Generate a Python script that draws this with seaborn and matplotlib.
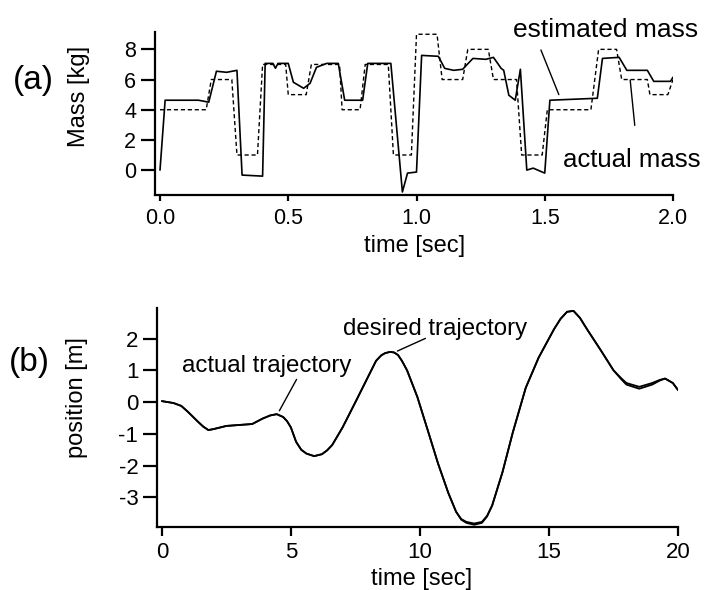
import numpy as np
import pandas as pd
import matplotlib
matplotlib.use("Agg")
import matplotlib.pyplot as plt
import seaborn as sns

# ---------------- data (a) ----------------
actual_t = [0.00, 0.18, 0.20, 0.28, 0.30, 0.38, 0.40, 0.49, 0.50, 0.57, 0.59, 0.70,
            0.71, 0.78, 0.80, 0.89, 0.91, 0.98, 1.00, 1.08, 1.10, 1.18, 1.20, 1.28,
            1.30, 1.39, 1.41, 1.49, 1.51, 1.68, 1.71, 1.78, 1.80, 1.90, 1.91, 1.98, 2.00]
actual_m = [4.0, 4.0, 6.0, 6.0, 1.0, 1.0, 7.0, 7.0, 5.0, 5.0, 7.0, 7.0,
            4.0, 4.0, 7.0, 7.0, 1.0, 1.0, 9.0, 9.0, 6.0, 6.0, 8.0, 8.0,
            6.0, 6.0, 1.0, 1.0, 4.0, 4.0, 8.0, 8.0, 6.0, 6.0, 5.0, 5.0, 6.0]

est_t = [0.00, 0.02, 0.15, 0.19, 0.22, 0.26, 0.30, 0.32, 0.40, 0.41, 0.44, 0.45, 0.46,
         0.50, 0.52, 0.56, 0.585, 0.61, 0.65, 0.695, 0.72, 0.79, 0.81, 0.90, 0.945,
         0.965, 1.00, 1.02, 1.085, 1.11, 1.145, 1.18, 1.22, 1.27, 1.30, 1.33, 1.34,
         1.36, 1.385, 1.405, 1.43, 1.455, 1.50, 1.52, 1.705, 1.725, 1.79, 1.82, 1.90,
         1.925, 1.99, 2.00]
est_m = [0.0, 4.63, 4.63, 4.5, 6.55, 6.48, 6.61, -0.33, -0.4, 7.07, 7.07, 6.75, 7.07,
         7.07, 5.82, 5.42, 5.75, 6.81, 7.07, 7.07, 4.63, 4.63, 7.07, 7.07, -1.45,
         -0.2, -0.13, 7.6, 7.54, 6.74, 6.61, 6.68, 7.4, 7.34, 7.47, 6.74, 6.61,
         4.96, 4.63, 6.68, 0.0, 0.13, -0.2, 4.63, 4.76, 7.4, 7.47, 6.61, 6.61,
         5.88, 5.88, 6.15]

# ---------------- data (b) ----------------
traj_t = [0.0, 0.45, 0.75, 1.0, 1.2, 1.4, 1.6, 1.8, 2.0, 2.5, 3.0, 3.5, 3.9, 4.2,
          4.45, 4.7, 4.85, 5.0, 5.2, 5.4, 5.6, 5.9, 6.2, 6.4, 6.6, 7.0, 7.5, 7.9,
          8.3, 8.5, 8.65, 8.85, 9.0, 9.15, 9.3, 9.5, 9.9, 10.3, 10.7, 11.1, 11.4,
          11.6, 11.8, 12.1, 12.4, 12.6, 12.8, 13.2, 13.6, 14.1, 14.6, 15.2, 15.45,
          15.7, 15.95, 16.2, 16.5, 17.0, 17.5, 17.8, 18.0, 18.5, 19.0, 19.3, 19.5,
          19.8, 20.0]
actual_pos = [0.03, -0.03, -0.12, -0.3, -0.46, -0.62, -0.77, -0.88, -0.85, -0.75,
              -0.72, -0.69, -0.52, -0.42, -0.38, -0.47, -0.6, -0.8, -1.25, -1.5,
              -1.62, -1.7, -1.64, -1.52, -1.35, -0.8, 0.0, 0.65, 1.3, 1.47, 1.54,
              1.58, 1.56, 1.48, 1.3, 1.0, 0.16, -0.88, -1.93, -2.86, -3.45, -3.68,
              -3.77, -3.82, -3.77, -3.58, -3.25, -2.2, -0.95, 0.45, 1.4, 2.3, 2.62,
              2.84, 2.87, 2.65, 2.26, 1.64, 1.0, 0.75, 0.6, 0.48, 0.6, 0.7, 0.74,
              0.6, 0.38]
desired_pos = [0.03, -0.03, -0.12, -0.3, -0.46, -0.62, -0.77, -0.88, -0.85, -0.75,
               -0.72, -0.69, -0.52, -0.42, -0.38, -0.47, -0.6, -0.8, -1.25, -1.5,
               -1.62, -1.7, -1.64, -1.52, -1.35, -0.8, 0.0, 0.65, 1.3, 1.47, 1.54,
               1.58, 1.56, 1.48, 1.3, 1.0, 0.16, -0.88, -1.93, -2.86, -3.45, -3.7,
               -3.8, -3.86, -3.8, -3.6, -3.25, -2.2, -0.95, 0.45, 1.4, 2.3, 2.62,
               2.84, 2.87, 2.65, 2.26, 1.64, 1.0, 0.72, 0.55, 0.42, 0.55, 0.68, 0.74,
               0.6, 0.38]

xticks_a = [0.0, 0.5, 1.0, 1.5, 2.0]
xticklabels_a = ["0.0", "0.5", "1.0", "1.5", "2.0"]
yticks_a = [0, 2, 4, 6, 8]
xticks_b = [0, 5, 10, 15, 20]
yticks_b = [-3, -2, -1, 0, 1, 2]

sns.set_style("ticks")
plt.rcParams["font.family"] = ["Liberation Sans", "DejaVu Sans"]
plt.rcParams["axes.unicode_minus"] = False
plt.rcParams["text.color"] = "black"
plt.rcParams["axes.labelcolor"] = "black"
plt.rcParams["xtick.color"] = "black"
plt.rcParams["ytick.color"] = "black"

W, H = 708, 590
fig = plt.figure(figsize=(W / 100, H / 100), dpi=100)

def rect(l, r, t, b):
    return [l / W, 1 - b / H, (r - l) / W, (b - t) / H]

ax1 = fig.add_axes(rect(155, 673, 32, 195))
ax2 = fig.add_axes(rect(157, 678, 308, 527))

df_act = pd.DataFrame({"t": actual_t, "m": actual_m})
df_est = pd.DataFrame({"t": est_t, "m": est_m})
sns.lineplot(data=df_act, x="t", y="m", ax=ax1, color="black", lw=1.0,
             estimator=None, sort=False)
ax1.lines[-1].set_dashes((3, 2))
sns.lineplot(data=df_est, x="t", y="m", ax=ax1, color="black", lw=1.2,
             estimator=None, sort=False)

df_b = pd.DataFrame({"t": traj_t, "act": actual_pos, "des": desired_pos})
sns.lineplot(data=df_b, x="t", y="des", ax=ax2, color="black", lw=1.3,
             estimator=None, sort=False)
sns.lineplot(data=df_b, x="t", y="act", ax=ax2, color="black", lw=1.3,
             estimator=None, sort=False)

for ax in (ax1, ax2):
    sns.despine(ax=ax)
    for s in ("left", "bottom"):
        ax.spines[s].set_linewidth(1.6)
        ax.spines[s].set_color("black")

ax1.set_xlim(-0.0195, 2.0)
ax1.set_ylim(-1.65, 9.15)
ax1.set_xticks(xticks_a)
ax1.set_xticklabels(xticklabels_a)
ax1.set_yticks(yticks_a)
ax1.tick_params(axis="y", length=10, width=1.6, pad=3.5, labelsize=15.5,
                color="black", labelcolor="black")
ax1.tick_params(axis="x", length=4.5, width=1.6, pad=5, labelsize=15.5,
                color="black", labelcolor="black")

ax2.set_xlim(-0.19, 20.0)
ax2.set_ylim(-3.93, 2.96)
ax2.set_xticks(xticks_b)
ax2.set_yticks(yticks_b)
ax2.tick_params(axis="y", length=10, width=1.6, pad=3.5, labelsize=16,
                color="black", labelcolor="black")
ax2.tick_params(axis="x", length=6.5, width=1.6, pad=4.5, labelsize=16,
                color="black", labelcolor="black")

ax1.set_ylabel("Mass [kg]", fontsize=17, va="center", ha="center", color="black")
ax1.yaxis.set_label_coords(-0.147, 0.607)
ax1.set_xlabel("time [sec]", fontsize=17, va="center", ha="center", color="black")
ax1.xaxis.set_label_coords(0.502, -0.313)

ax2.set_ylabel("position [m]", fontsize=17, va="center", ha="center", color="black")
ax2.yaxis.set_label_coords(-0.1526, 0.591)
ax2.set_xlabel("time [sec]", fontsize=17, va="center", ha="center", color="black")
ax2.xaxis.set_label_coords(0.507, -0.237)

fig.text(33 / W, 1 - 80 / H, "(a)", fontsize=24, ha="center", va="center", color="black")
fig.text(29 / W, 1 - 362 / H, "(b)", fontsize=24, ha="center", va="center", color="black")

# annotations (a)
ax1.text(1.376, 8.79, "estimated mass", fontsize=19, ha="left", va="baseline",
         clip_on=False, color="black")
ax1.annotate("", xy=(1.559, 4.83), xytext=(1.481, 8.13),
             arrowprops=dict(arrowstyle="-", lw=1.0, color="black"),
             annotation_clip=False)
ax1.text(1.571, 0.2, "actual mass", fontsize=18.5, ha="left", va="baseline",
         clip_on=False, color="black")
ax1.annotate("", xy=(1.832, 6.15), xytext=(1.852, 2.78),
             arrowprops=dict(arrowstyle="-", lw=1.0, color="black"),
             annotation_clip=False)

# annotations (b)
ax2.text(0.78, 0.94, "actual trajectory", fontsize=17.3, ha="left", va="baseline",
         color="black")
ax2.annotate("", xy=(4.5, -0.35), xytext=(5.27, 0.79),
             arrowprops=dict(arrowstyle="-", lw=1.0, color="black"))
ax2.text(7.02, 2.11, "desired trajectory", fontsize=17.3, ha="left", va="baseline",
         color="black")
ax2.annotate("", xy=(9.03, 1.57), xytext=(10.31, 2.04),
             arrowprops=dict(arrowstyle="-", lw=1.0, color="black"))

fig.savefig("out.png", dpi=100, facecolor="white")
